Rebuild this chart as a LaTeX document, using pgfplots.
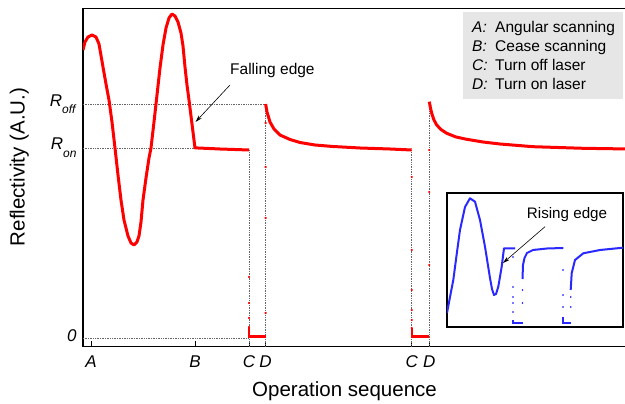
\documentclass[border=0pt]{standalone}
\usepackage{pgfplots}
\pgfplotsset{compat=1.18}
\usepackage{fontspec}
\setmainfont{Liberation Sans}
\usetikzlibrary{arrows.meta}
\definecolor{myred}{RGB}{255,0,0}
\definecolor{myblue}{RGB}{40,40,255}
\definecolor{leggray}{RGB}{230,230,230}
\pgfplotsset{guide/.style={black!60, densely dotted, line width=0.7pt}}
\begin{document}
\begin{tikzpicture}
\useasboundingbox (-83pt,-57.5pt) rectangle (542pt,346.5pt);
\begin{axis}[
 width=546pt, height=338pt, scale only axis,
 xmin=0, xmax=546, ymin=-8.5, ymax=329.5,
 axis line style={line width=1.6pt},
 xtick={8,112,166,182.6,328.7,346.3},
 xticklabels={\textit{A},\textit{B},\textit{C},\textit{D},\textit{C},\textit{D}},
 ytick={0,190,234},
 yticklabels={\raisebox{5pt}{\textit{0}}, {\textit{R}\raisebox{-8pt}{\fontsize{12}{12}\selectfont\textit{on}}}, {\textit{R}\raisebox{-7pt}{\fontsize{12}{12}\selectfont\textit{off}}}},
 xtick pos=left, ytick pos=left, tick align=inside,
 major tick length=5pt,
 ytick style={draw=none},
 xtick style={line width=0.6pt, black},
 ticklabel style={font=\fontsize{17}{20}\selectfont},
 xticklabel style={yshift=-6pt},
 yticklabel style={xshift=-3pt},
 xlabel={Operation sequence}, ylabel={Reflectivity (A.U.)},
 label style={font=\fontsize{20.5}{24}\selectfont},
 xlabel style={at={(axis description cs:0.479,-0.1485)}, anchor=base},
 ylabel style={at={(axis description cs:-0.107,0.531)}, anchor=base},
]
% guides
\addplot[guide] coordinates {(0,234) (182.6,234)};
\addplot[guide] coordinates {(0,190) (112,190)};
\addplot[guide] coordinates {(0,0) (166,0)};
\addplot[guide] coordinates {(166,-8.5) (166,188)};
\addplot[guide] coordinates {(182.6,-8.5) (182.6,234)};
\addplot[guide] coordinates {(328.7,-8.5) (328.7,188)};
\addplot[guide] coordinates {(346.3,-8.5) (346.3,236)};
% main curve
\addplot[myred, line width=3pt, line join=round] coordinates {
(0,288) (2,296) (5,301) (9,303) (13,301) (16,294) (20,271) (23,254) (26,238) (29,216)
(32,190) (35,163) (38,138) (41,118) (45,102) (48,95) (51,93) (54,96) (56,102) (58,116)
(60,138) (63,160) (66,180) (68,190) (71,216) (74,243) (77,270) (80,293) (83,310) (86,320)
(89,324) (92,322) (95,316) (98,305) (100,292) (102,271) (104,253) (106,238) (109,214)
(112,190) (115,190) (137,189) (166,188)};
\addplot[only marks, mark=*, mark size=0.9pt, myred] coordinates {
(166,61) (166,35) (166,20) (166,11) (166,6)
(182.6,25) (182.6,120) (182.6,171) (182.6,215)
(328.7,161) (328.7,88) (328.7,48) (328.7,28) (328.7,18) (328.7,10)
(346.3,188) (346.3,146) (346.3,73)};
\addplot[myred, line width=2.2pt] coordinates {(166,11) (166,1.5) (182.6,1.5)};
\addplot[myred, line width=2.2pt] coordinates {(328.7,10) (328.7,1.5) (346.3,1.5)};
\addplot[myred, line width=3pt, line join=round] coordinates {
(182.6,234) (184,226) (187,216) (191,209) (197,203) (207,198.5) (217,195.5) (232,193)
(250,191.5) (277,190) (307,189) (328.7,188)};
\addplot[myred, line width=3pt, line join=round] coordinates {
(346.3,236.3) (347.5,230) (348.7,224.7) (351,218) (353.7,213) (358,208.5) (363.7,204.7)
(373,201) (383.7,198.7) (400,196) (417,194) (450,191.3) (500,189.7) (546,189)};
% legend box
\fill[leggray] (axis cs:380,239) rectangle (axis cs:540,326);
\begin{scope}[every node/.style={anchor=base west, font=\fontsize{15.5}{18}\selectfont, inner sep=0pt}]
\node at (axis cs:389,305.7) {\textit{A:}};
\node at (axis cs:412,305.7) {Angular scanning};
\node at (axis cs:389,286.5) {\textit{B:}};
\node at (axis cs:412,286.5) {Cease scanning};
\node at (axis cs:389,267.5) {\textit{C:}};
\node at (axis cs:412,267.5) {Turn off laser};
\node at (axis cs:389,248.5) {\textit{D:}};
\node at (axis cs:412,248.5) {Turn on laser};
\node at (axis cs:147,263) {Falling edge};
\end{scope}
\draw[-{Stealth[length=7pt,width=4pt]}, line width=0.6pt] (axis cs:147,253) -- (axis cs:112.5,216);
\end{axis}
\begin{axis}[at={(364pt,19.5pt)}, anchor=south west, width=176pt, height=134pt, scale only axis,
 xmin=0, xmax=176, ymin=0, ymax=134, xtick=\empty, ytick=\empty,
 axis line style={line width=1.2pt}, axis background/.style={fill=white}]
\addplot[myblue, line width=2pt, line join=round] coordinates {
(0,14) (3,30) (6.3,47) (10,75) (13,97) (18,120) (23,128.7) (28,125.3) (33,107) (38,80.3)
(43,49) (45,38) (47,32) (49,33) (51.3,40.3) (54.7,60.3) (57,78.7) (68,78.7)};
\addplot[only marks, mark=*, mark size=0.6pt, myblue] coordinates {
(66,70) (66,40) (66,30) (66,24) (66,15) (75.5,24) (75.5,37)
(116,57) (116,32) (116,20) (123.7,20) (123.7,30)};
\addplot[myblue, line width=1.5pt] coordinates {(66,7) (66,4) (75.5,4)};
\addplot[myblue, line width=1.5pt] coordinates {(116,10) (116,4) (123.7,4)};
\addplot[myblue, line width=2pt, line join=round] coordinates {
(75.5,48) (76,62) (77.5,69) (80,74) (86,77) (100,78.5) (116.3,79)};
\addplot[myblue, line width=2pt, line join=round] coordinates {
(123.7,37) (124.7,53.7) (128,67) (136.3,73.7) (153,77) (176,79.3)};
\node[anchor=base west, font=\fontsize{15.2}{18}\selectfont, inner sep=0pt] at (axis cs:79.7,108.7) {Rising edge};
\draw[-{Stealth[length=7pt,width=4pt]}, line width=0.6pt] (axis cs:98,100.3) -- (axis cs:56,64);
\end{axis}
\end{tikzpicture}
\end{document}
